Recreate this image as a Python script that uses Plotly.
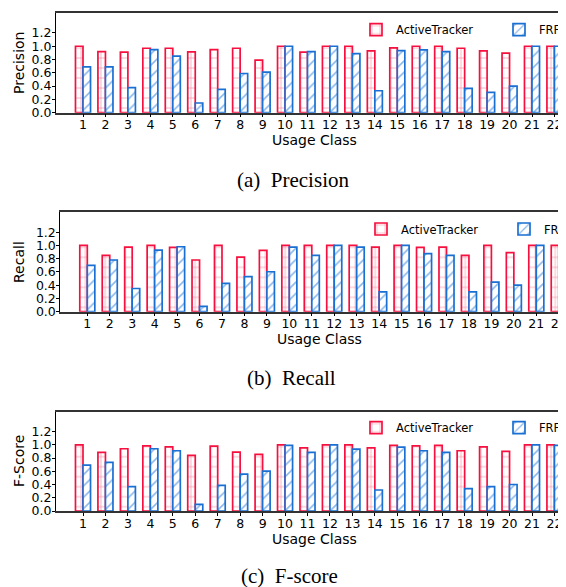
import plotly.graph_objects as go

classes = list(range(1, 23))
class_labels = [str(c) for c in classes]

precision_at = [1.0, 0.92, 0.91, 0.97, 0.97, 0.915, 0.95, 0.97, 0.79, 1.0, 0.91,
                1.0, 1.0, 0.93, 0.975, 1.0, 1.0, 0.97, 0.93, 0.895, 1.0, 1.0]
precision_frf = [0.69, 0.69, 0.377, 0.95, 0.85, 0.146, 0.35, 0.59, 0.61, 1.0, 0.92,
                 1.0, 0.89, 0.33, 0.935, 0.945, 0.92, 0.367, 0.307, 0.40, 1.0, 1.0]

recall_at = [1.0, 0.85, 0.975, 1.0, 0.97, 0.78, 1.0, 0.825, 0.925, 1.0, 1.0,
             1.0, 1.0, 0.975, 1.0, 0.97, 0.975, 0.85, 1.0, 0.89, 1.0, 1.0]
recall_frf = [0.70, 0.78, 0.35, 0.93, 0.98, 0.08, 0.427, 0.528, 0.603, 0.975, 0.85,
              1.0, 0.975, 0.30, 1.0, 0.875, 0.85, 0.30, 0.447, 0.40, 1.0, 0.975]

fscore_at = [1.0, 0.885, 0.94, 0.985, 0.97, 0.84, 0.98, 0.89, 0.855, 1.0, 0.955,
             1.0, 1.0, 0.955, 0.99, 0.985, 0.99, 0.91, 0.97, 0.90, 1.0, 1.0]
fscore_frf = [0.693, 0.734, 0.367, 0.94, 0.91, 0.10, 0.387, 0.558, 0.603, 0.99, 0.885,
              1.0, 0.935, 0.317, 0.965, 0.91, 0.885, 0.337, 0.367, 0.40, 1.0, 0.99]

y_ticks = [0.0, 0.2, 0.4, 0.6, 0.8, 1.0, 1.2]
y_ticklabels = ["0.0", "0.2", "0.4", "0.6", "0.8", "1.0", "1.2"]

series_names = ["ActiveTracker", "FRF"]
panel_titles = ["Precision", "Recall", "F-Score"]
captions = ["(a)\u00a0\u00a0Precision", "(b)\u00a0\u00a0Recall", "(c)\u00a0\u00a0F-score"]

RED = "#f5103f"
BLUE = "#1a6fd2"
W, H = 566, 587
OFF = 8  # page body margin in the browser
FONT = "DejaVu Sans"


def fx(px):
    return (px - OFF) / W


def fy(py):
    return 1 - (py - OFF) / H


panels = [
    (precision_at, precision_frf),
    (recall_at, recall_frf),
    (fscore_at, fscore_frf),
]

# geometry of each panel in window pixels
SP = 22.45  # px per class
geom = [
    dict(left=56.0, top=13.0, bottom=112.7, tick1=83.0, title_y=63, xt_x=314, xt_y=140, leg_x=356, leg_y=29.7, cap_x=293, cap_y=180),
    dict(left=60.3, top=212.3, bottom=311.7, tick1=87.3, title_y=262, xt_x=319, xt_y=339, leg_x=361, leg_y=229.0, cap_x=291, cap_y=378),
    dict(left=56.0, top=411.7, bottom=511.0, tick1=83.0, title_y=461, xt_x=314, xt_y=539, leg_x=356, leg_y=427.7, cap_x=289, cap_y=576),
]

fig = go.Figure()
annotations = []
layout = {}
RIGHT_PX = W + OFF  # right edge of figure in window pixels

for i, ((at_vals, frf_vals), g) in enumerate(zip(panels, geom)):
    sfx = "" if i == 0 else str(i + 1)
    xa, ya = "x" + sfx, "y" + sfx
    leg = "legend" + sfx
    fig.add_trace(go.Bar(
        x=classes, y=at_vals, name=series_names[0], xaxis=xa, yaxis=ya, legend=leg,
        marker=dict(color="white", line=dict(color=RED, width=1.7),
                    pattern=dict(shape="+", fgcolor=RED, bgcolor="white", size=10, solidity=0.12)),
    ))
    fig.add_trace(go.Bar(
        x=classes, y=frf_vals, name=series_names[1], xaxis=xa, yaxis=ya, legend=leg,
        marker=dict(color="white", line=dict(color=BLUE, width=1.7),
                    pattern=dict(shape="/", fgcolor=BLUE, bgcolor="white", size=8, solidity=0.2)),
    ))
    x_lo = 1 - (g["tick1"] - g["left"]) / SP
    x_hi = 1 + (RIGHT_PX - g["tick1"]) / SP
    layout["xaxis" + sfx] = dict(
        domain=[fx(g["left"]), 1.0], anchor=ya, range=[x_lo, x_hi],
        tickvals=classes, ticktext=class_labels, tickangle=0, ticks="outside", ticklen=3,
        tickcolor="black", ticklabelstandoff=-3,
        showline=True, linecolor="#333", linewidth=1.5, mirror=True,
        showgrid=False, zeroline=False, tickfont=dict(size=12.5, color="black", family=FONT),
    )
    layout["yaxis" + sfx] = dict(
        domain=[fy(g["bottom"]), fy(g["top"])], anchor=xa, range=[0, 1.5],
        tickvals=y_ticks, ticktext=y_ticklabels, ticks="outside", ticklen=3, tickcolor="black",
        ticklabelstandoff=-2,
        showline=True, linecolor="black", linewidth=1, showgrid=False, zeroline=False,
        tickfont=dict(size=12.5, color="black", family=FONT),
    )
    layout[leg] = dict(
        orientation="h", x=fx(g["leg_x"]), y=fy(g["leg_y"]), xanchor="left", yanchor="middle",
        bgcolor="rgba(0,0,0,0)", font=dict(size=11.5, color="black", family=FONT),
        entrywidth=98, entrywidthmode="pixels",
    )
    annotations.append(dict(text=panel_titles[i], xref="paper", yref="paper",
                            x=fx(19), y=fy(g["title_y"]), textangle=-90, showarrow=False,
                            xanchor="center", yanchor="middle",
                            font=dict(size=14, color="black", family=FONT)))
    annotations.append(dict(text="Usage Class", xref="paper", yref="paper",
                            x=fx(g["xt_x"]), y=fy(g["xt_y"]), showarrow=False,
                            xanchor="center", yanchor="middle",
                            font=dict(size=14, color="black", family=FONT)))
    annotations.append(dict(text=captions[i], xref="paper", yref="paper",
                            x=fx(g["cap_x"]), y=fy(g["cap_y"]), showarrow=False,
                            xanchor="center", yanchor="middle",
                            font=dict(size=21, color="black", family="Liberation Serif")))

fig.update_layout(
    width=W, height=H, margin=dict(l=0, r=0, t=0, b=0, autoexpand=False),
    paper_bgcolor="white", plot_bgcolor="white",
    barmode="group", bargap=0.33, bargroupgap=0.0,
    font=dict(family=FONT, color="black"),
    annotations=annotations, **layout,
)

fig.write_html("out.html")
